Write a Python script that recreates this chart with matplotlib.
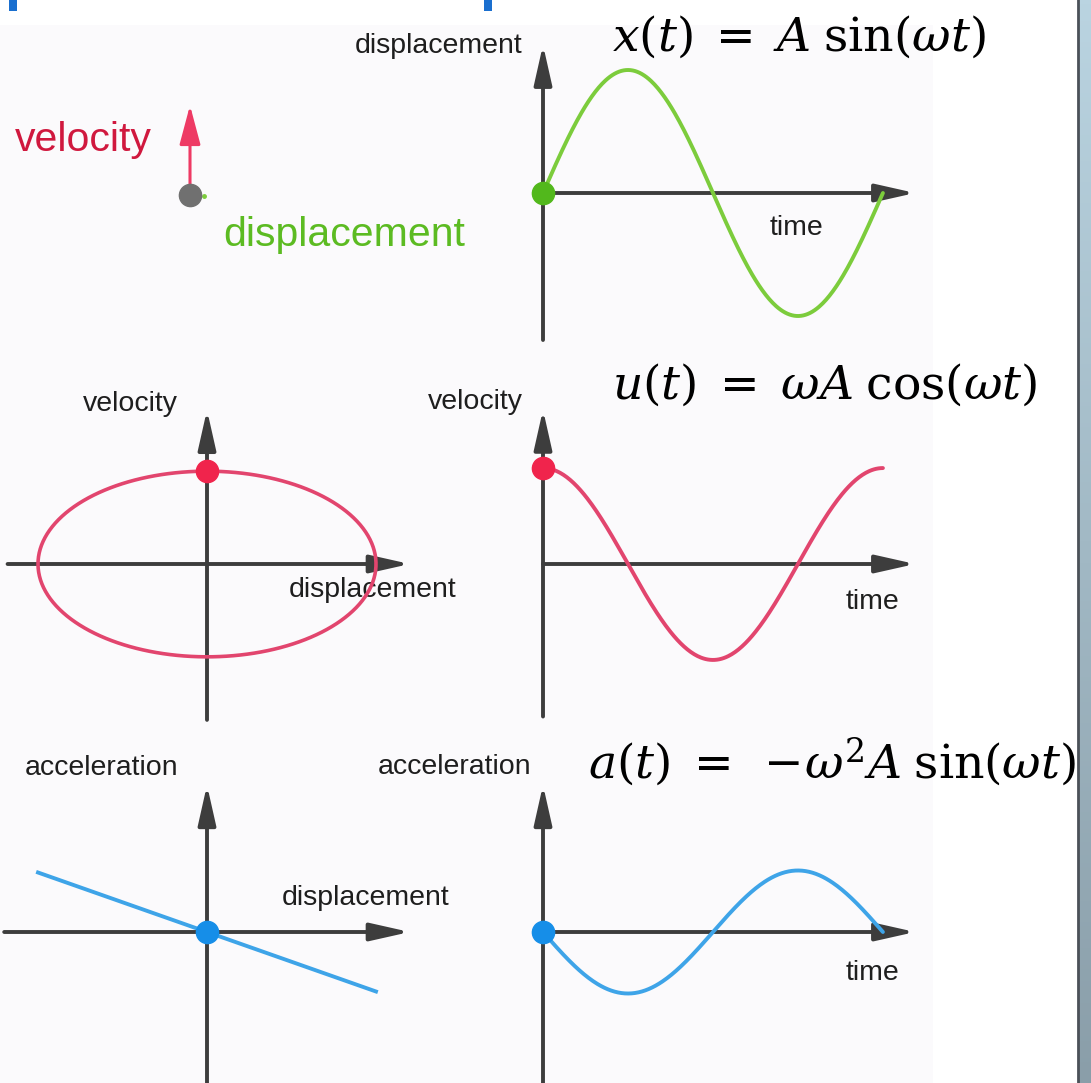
import numpy as np
import matplotlib.pyplot as plt
from matplotlib import transforms

plt.rcParams['font.family'] = ['Liberation Sans', 'DejaVu Sans']
plt.rcParams['mathtext.fontset'] = 'dejavuserif'

# 数据：一个周期内的简谐运动
A_DISP = 1.0     # 位移振幅
A_VEL = 0.78     # 速度振幅 (ωA)
A_ACC = 0.50     # 加速度振幅 (ω²A)
PERIODS = 1.0
N = 300

t = np.linspace(0, 2 * np.pi * PERIODS, N)
disp = A_DISP * np.sin(t)
vel = A_VEL * np.cos(t)
acc = -A_ACC * np.sin(t)
disp_line = np.array([-A_DISP, A_DISP])
acc_line = -A_ACC / A_DISP * disp_line

eq_x = r'$x(t)\;=\;A\;\sin(\omega t)$'
eq_u = r'$u(t)\;=\;\omega A\;\cos(\omega t)$'
eq_a = r'$a(t)\;=\;-\!\omega^2 A\;\sin(\omega t)$'

# 颜色
AXIS_C = '#3d3d3d'
TEXT_C = '#1e1e1e'
GREEN, GREEN_DOT = '#7ccc3c', '#52b81c'
RED, RED_DOT = '#e2456e', '#f0244c'
BLUE, BLUE_DOT = '#3ea4e8', '#168ee8'

W, H = 1091, 1083
fig = plt.figure(figsize=(W / 100, H / 100), dpi=100)
fig.patch.set_facecolor('white')

# 背景（像素坐标）
bg = fig.add_axes([0, 0, 1, 1])
bg.set_xlim(0, W)
bg.set_ylim(H, 0)
bg.axis('off')
bg.add_patch(plt.Rectangle((0, 25), 933, H - 25, color='#fbfafc', lw=0))
bg.add_patch(plt.Rectangle((9, 0), 8, 11, color='#1a6fcf', lw=0))
bg.add_patch(plt.Rectangle((484, 0), 8, 11, color='#1a6fcf', lw=0))
grad = np.linspace(0, 1, 256).reshape(-1, 1)
cmap = plt.matplotlib.colors.LinearSegmentedColormap.from_list('strip', ['#bad4e1', '#8a9ea9'])
bg.imshow(grad, cmap=cmap, extent=(1078, W, H, 0), aspect='auto')
bg.plot([1077.5, 1077.5], [0, H], color='#4b5158', lw=2)
bg.set_xlim(0, W)
bg.set_ylim(H, 0)


def panel(ox, oy, sx, sy, xlim, ylim):
    left = ox + xlim[0] * sx
    right = ox + xlim[1] * sx
    top = oy - ylim[1] * sy
    bottom = oy - ylim[0] * sy
    ax = fig.add_axes([left / W, 1 - bottom / H, (right - left) / W, (bottom - top) / H])
    ax.set_xlim(xlim)
    ax.set_ylim(ylim)
    ax.axis('off')
    ax.patch.set_alpha(0)
    return ax


def axis_arrows(ax, xr, yr):
    style = dict(arrowstyle='-|>,head_length=1.2,head_width=0.27', lw=2.8,
                 color=AXIS_C, shrinkA=0, shrinkB=0, mutation_scale=20)
    ax.annotate('', xy=(xr[1], 0), xytext=(xr[0], 0), arrowprops=style)
    ax.annotate('', xy=(0, yr[1]), xytext=(0, yr[0]), arrowprops=style)


SX_T, SY_R = 54.1, 123
SX_D, SY_L = 169, 119

# 位移-时间
ax1 = panel(543, 193, SX_T, SY_R, (-0.5, 7.3), (-1.35, 1.35))
axis_arrows(ax1, (0, 6.88), (-1.195, 1.205))
ax1.plot(t, disp, color=GREEN, lw=2.8, solid_capstyle='round', zorder=3)
ax1.plot(t[0], disp[0], 'o', ms=16, color=GREEN_DOT, zorder=4)

# 速度-时间
ax2 = panel(543, 564, SX_T, SY_R, (-0.5, 7.3), (-1.35, 1.35))
axis_arrows(ax2, (0, 6.88), (-1.24, 1.255))
ax2.plot(t, vel, color=RED, lw=2.8, solid_capstyle='round', zorder=3)
ax2.plot(t[0], vel[0], 'o', ms=16, color=RED_DOT, zorder=4)

# 加速度-时间
ax3 = panel(543, 932, SX_T, SY_R, (-0.5, 7.3), (-1.35, 1.35))
axis_arrows(ax3, (0, 6.88), (-1.3, 1.195))
ax3.plot(t, acc, color=BLUE, lw=2.8, solid_capstyle='round', zorder=3)
ax3.plot(t[0], acc[0], 'o', ms=16, color=BLUE_DOT, zorder=4)

# 相图：速度-位移
ax4 = panel(207, 564, SX_D, SY_L, (-1.3, 1.3), (-1.4, 1.4))
axis_arrows(ax4, (-1.18, 1.20), (-1.31, 1.295))
ax4.plot(disp, vel, color=RED, lw=2.6, zorder=3)
ax4.plot(disp[0], vel[0], 'o', ms=16, color=RED_DOT, zorder=4)

# 加速度-位移
ax5 = panel(207, 932, SX_D, SY_L, (-1.3, 1.3), (-1.4, 1.4))
axis_arrows(ax5, (-1.2, 1.20), (-1.35, 1.235))
ax5.plot(disp_line, acc_line, color=BLUE, lw=2.8, zorder=3)
ax5.plot(disp[0], acc[0], 'o', ms=16, color=BLUE_DOT, zorder=4)

# 质点与速度箭头
ax6 = panel(190, 195, SX_D, 115, (-0.2, 0.2), (-0.2, 1.0))
ax6.annotate('', xy=(0, vel[0]), xytext=(0, 0),
             arrowprops=dict(arrowstyle='-|>,head_length=1.2,head_width=0.32', lw=2.2,
                             color='#ee3a64', shrinkA=0, shrinkB=0, mutation_scale=20))
ax6.plot(disp[0], 0, 'o', ms=16, color='#707070', zorder=4)
off = transforms.offset_copy(ax6.transData, fig=fig, x=10, y=-1, units='points')
ax6.plot(disp[0], 0, 'o', ms=2.5, color=GREEN, transform=off)

# 文字
lab = dict(fontsize=20.5, color=TEXT_C, va='center')
bg.text(523, 46, 'displacement', ha='right', **lab)
bg.text(797, 228, 'time', ha='center', **lab)
bg.text(130, 404, 'velocity', ha='center', **lab)
bg.text(523, 402, 'velocity', ha='right', **lab)
bg.text(373, 590, 'displacement', ha='center', **lab)
bg.text(873, 602, 'time', ha='center', **lab)
bg.text(102, 768, 'acceleration', ha='center', **lab)
bg.text(455, 767, 'acceleration', ha='center', **lab)
bg.text(366, 898, 'displacement', ha='center', **lab)
bg.text(873, 973, 'time', ha='center', **lab)

bg.text(15, 140, 'velocity', fontsize=29.5, color='#d0183e', ha='left', va='center')
bg.text(223, 235, 'displacement', fontsize=29.5, color='#5cbb22', ha='left', va='center')

eq = dict(fontsize=34, color='black', ha='left', va='center')
bg.text(612, 37, eq_x, **eq)
bg.text(612, 385, eq_u, **eq)
bg.text(588, 762, eq_a, **eq)

fig.savefig('out.png', dpi=100)
